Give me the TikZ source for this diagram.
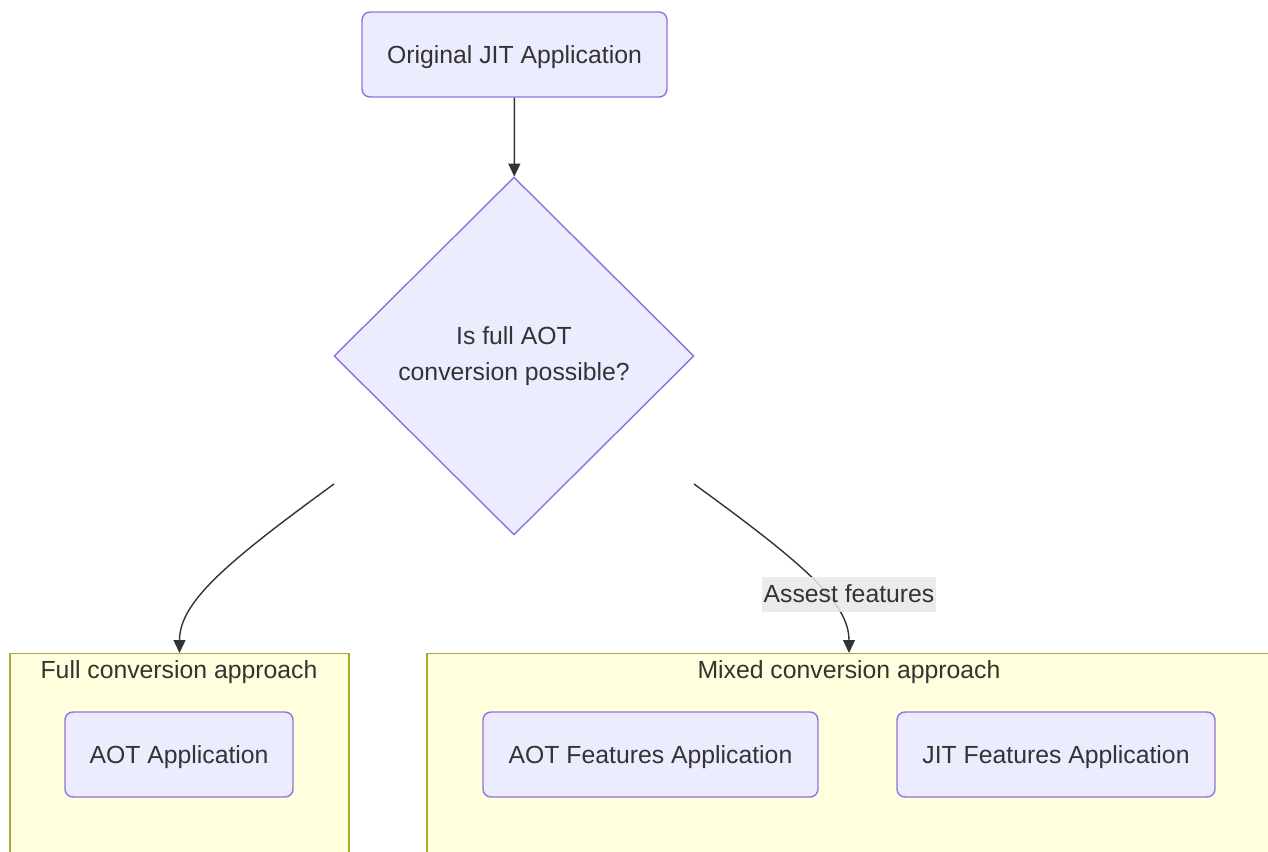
\documentclass[tikz,border=0pt]{standalone}
\usepackage{fontspec}
\setmainfont{Liberation Sans}
\usetikzlibrary{positioning,arrows.meta,shapes.geometric}
\definecolor{nfill}{HTML}{ECECFF}
\definecolor{nline}{HTML}{9370DB}
\definecolor{cfill}{HTML}{FFFFDE}
\definecolor{cline}{HTML}{AAAA33}
\definecolor{txt}{HTML}{333333}
\definecolor{lblbg}{HTML}{E8E8E8}
\tikzset{
  proc/.style={rectangle,rounded corners=4.5pt,draw=nline,fill=nfill,line width=0.8pt,
    text=txt,minimum height=1.7cm,inner sep=0pt,text depth=0pt},
  decide/.style={diamond,aspect=1,draw=nline,fill=nfill,line width=0.8pt,text=txt,
    minimum width=7.2cm,minimum height=7.16cm,inner sep=0pt,align=center,
    font=\fontsize{14.1}{20.4}\selectfont},
  clus/.style={rectangle,draw=cline,fill=cfill,line width=0.8pt,minimum height=5cm,
    anchor=north,inner sep=0pt},  % subgraph frame
  ctitle/.style={text=txt,text depth=0pt},
  flow/.style={-{Triangle[length=2.6mm,width=2.4mm]},line width=0.8pt,draw=txt},
  elbl/.style={fill=lblbg,fill opacity=0.85,text opacity=1,text=txt,inner xsep=1pt,
    minimum height=0.7cm},
}

\begin{document}
\begin{tikzpicture}[x=0.02cm,y=-0.02cm,font=\fontsize{14.1}{17}\selectfont]
  \useasboundingbox (0,0) rectangle (1268,852);
  \clip (0,0) rectangle (1268,852);
  % start and decision
  \node[proc,minimum width=6.1cm] (jit) at (514.5,54.5) {Original JIT Application};
  \node[decide] (chk) at (514,356) {Is full AOT\\conversion possible?};
  % the two approaches
  \node[clus,minimum width=6.78cm] (full) at (179.5,653) {};
  \node[clus,minimum width=16.88cm] (mixed) at (849,653) {};
  \node[ctitle] (fullt) at (179,670) {Full conversion approach};
  \node[ctitle] (mixedt) at (849,670) {Mixed conversion approach};
  \node[proc,minimum width=4.56cm] (aot) at (179,754.5) {AOT Application};
  \node[proc,minimum width=6.7cm] (aotf) at (650.5,754.5) {AOT Features Application};
  \node[proc,minimum width=6.36cm] (jitf) at (1056,754.5) {JIT Features Application};
  % connectors
  \coordinate (lft) at (334,484);
  \coordinate (rgt) at (694,484);
  \draw[flow] (jit) -- (chk);
  \draw[flow] (lft) .. controls +(-110,80) and +(0,-50) .. (full.north);
  \draw[flow] (rgt) .. controls +(110,80) and +(0,-50) .. (mixed.north);
  \node[elbl] (lbl) at (849,594) {Assest features};
\end{tikzpicture}
\end{document}
